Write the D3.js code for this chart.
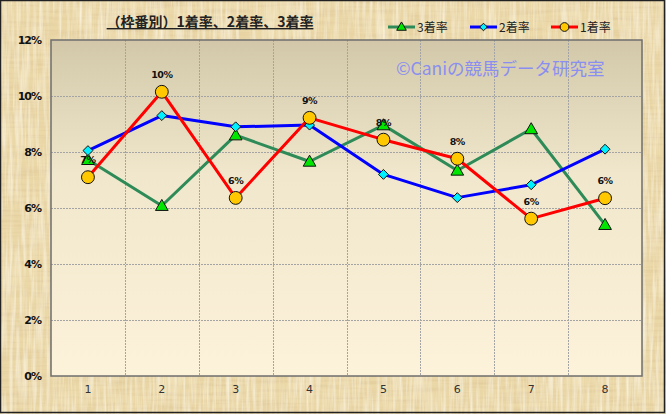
<!DOCTYPE html>
<html>
<head>
<meta charset="utf-8">
<script src="https://cdn.jsdelivr.net/npm/d3@7"></script>
<style>
  body { margin: 0; background: #fff; }
  svg { display: block; }
</style>
</head>
<body>
<script>
// 枠番別 着率 data
const categories = ["1", "2", "3", "4", "5", "6", "7", "8"];
const rate1 = [7.1, 10.15, 6.36, 9.22, 8.44, 7.76, 5.62, 6.35];
const rate2 = [8.05, 9.3, 8.9, 8.96, 7.2, 6.37, 6.83, 8.1];
const rate3 = [7.72, 6.08, 8.6, 7.66, 8.96, 7.34, 8.82, 5.4];
const labels1 = ["7%", "10%", "6%", "9%", "8%", "8%", "6%", "6%"];
const yTicks = [0, 2, 4, 6, 8, 10, 12];
const seriesNames = ["3着率", "2着率", "1着率"];

const W = 666, H = 414;
const margin = { top: 40, right: 24, bottom: 38, left: 51 };
const pw = W - margin.left - margin.right;
const ph = H - margin.top - margin.bottom;

const x = d3.scaleBand().domain(categories).range([0, pw]);
const y = d3.scaleLinear().domain([0, 12]).range([ph, 0]);

const svg = d3.select("body").append("svg")
    .attr("width", W).attr("height", H);

const defs = svg.append("defs");

// parchment texture: dark blotches + light fibres
const flt = defs.append("filter").attr("id", "paper")
    .attr("x", 0).attr("y", 0).attr("width", "100%").attr("height", "100%");
flt.append("feTurbulence").attr("type", "fractalNoise")
    .attr("baseFrequency", "0.02 0.3").attr("numOctaves", 3).attr("seed", 4)
    .attr("result", "n1");
flt.append("feColorMatrix").attr("in", "n1").attr("type", "matrix")
    .attr("values", "0 0 0 0 0.72  0 0 0 0 0.56  0 0 0 0 0.3  1.3 0 0 0 -0.5")
    .attr("result", "c1");
flt.append("feTurbulence").attr("type", "fractalNoise")
    .attr("baseFrequency", "0.3 0.02").attr("numOctaves", 3).attr("seed", 9)
    .attr("result", "n2");
flt.append("feColorMatrix").attr("in", "n2").attr("type", "matrix")
    .attr("values", "0 0 0 0 1  0 0 0 0 0.97  0 0 0 0 0.86  1.3 0 0 0 -0.5")
    .attr("result", "c2");
flt.append("feMerge").selectAll("feMergeNode")
    .data(["c1", "c2"]).join("feMergeNode").attr("in", d => d);

const grad = defs.append("linearGradient").attr("id", "plotbg")
    .attr("x1", 0).attr("y1", 0).attr("x2", 0).attr("y2", 1);
grad.append("stop").attr("offset", "0%").attr("stop-color", "#d2c8a9");
grad.append("stop").attr("offset", "40%").attr("stop-color", "#f0e7cc");
grad.append("stop").attr("offset", "100%").attr("stop-color", "#fdf2da");

// background
svg.append("rect").attr("width", W).attr("height", H).attr("fill", "#ebd8a8");
svg.append("rect").attr("width", W).attr("height", H).attr("filter", "url(#paper)");
svg.append("rect").attr("x", 0.5).attr("y", 0.5).attr("width", W - 2).attr("height", H - 2)
    .attr("fill", "none").attr("stroke", "#222").attr("stroke-width", 1.5);

const g = svg.append("g").attr("transform", `translate(${margin.left},${margin.top})`);

g.append("rect").attr("width", pw).attr("height", ph).attr("fill", "url(#plotbg)");

// gridlines
g.append("g").selectAll("line").data(yTicks.slice(1, -1)).join("line")
    .attr("x1", 0).attr("x2", pw)
    .attr("y1", d => Math.round(y(d)) + 0.5).attr("y2", d => Math.round(y(d)) + 0.5)
    .attr("stroke", "#a4a4a4").attr("stroke-dasharray", "2,1");
g.append("g").selectAll("line").data(categories.slice(1)).join("line")
    .attr("x1", d => Math.round(x(d)) + 0.5).attr("x2", d => Math.round(x(d)) + 0.5)
    .attr("y1", 0).attr("y2", ph)
    .attr("stroke", "#a4a4a4").attr("stroke-dasharray", "2,1");

g.append("rect").attr("x", 0).attr("y", 0).attr("width", pw).attr("height", ph)
    .attr("fill", "none").attr("stroke", "#6e6e6e").attr("stroke-width", 1.5);

// axes
const yAxis = g.append("g")
    .call(d3.axisLeft(y).tickValues(yTicks).tickFormat(d => d + "%").tickSize(0).tickPadding(10));
yAxis.select(".domain").remove();
yAxis.selectAll("text").attr("font-family", "DejaVu Sans, sans-serif")
    .attr("font-size", 11).attr("font-weight", "bold").attr("fill", "#111")
    .attr("letter-spacing", "-1");

const xAxis = g.append("g").attr("transform", `translate(0,${ph})`)
    .call(d3.axisBottom(x).tickSize(0).tickPadding(9));
xAxis.select(".domain").remove();
xAxis.selectAll("text").attr("font-family", "DejaVu Sans, sans-serif")
    .attr("font-size", 11).attr("fill", "#333");

// watermark
svg.append("text").attr("x", 396).attr("y", 75)
    .attr("font-family", "Noto Sans CJK JP, sans-serif")
    .attr("font-size", 17.5).attr("fill", "#8a8ef0")
    .text("©Caniの競馬データ研究室");

// series
const cx = d => x(d) + x.bandwidth() / 2;
const series = [
  { name: seriesNames[0], values: rate3, color: "#2e8b57", marker: "triangle", fill: "#00e600" },
  { name: seriesNames[1], values: rate2, color: "#0000ff", marker: "diamond", fill: "#00f0ff" },
  { name: seriesNames[2], values: rate1, color: "#ff0000", marker: "circle", fill: "#ffc800" }
];

const markerSym = {
  triangle: d3.symbol().type(d3.symbolTriangle).size(70),
  diamond: d3.symbol().type(d3.symbolDiamond2).size(62),
  circle: d3.symbol().type(d3.symbolCircle).size(130)
};
const legendSym = {
  triangle: d3.symbol().type(d3.symbolTriangle).size(40),
  diamond: d3.symbol().type(d3.symbolDiamond2).size(36),
  circle: d3.symbol().type(d3.symbolCircle).size(60)
};

const line = d3.line().x((d, i) => cx(categories[i])).y(d => y(d));

series.forEach(s => {
  g.append("path").datum(s.values).attr("d", line)
      .attr("fill", "none").attr("stroke", s.color).attr("stroke-width", 3)
      .attr("stroke-linejoin", "round");
});
series.forEach(s => {
  g.append("g").selectAll("path").data(s.values).join("path")
      .attr("transform", (d, i) => `translate(${cx(categories[i])},${y(d) + (s.marker === "triangle" ? 1 : 0)})`)
      .attr("d", markerSym[s.marker]())
      .attr("fill", s.fill).attr("stroke", "#111").attr("stroke-width", 1);
});

// data labels for 1着率
g.append("g").selectAll("text").data(rate1).join("text")
    .attr("x", (d, i) => cx(categories[i]))
    .attr("y", d => y(d) - 14)
    .attr("text-anchor", "middle")
    .attr("font-family", "DejaVu Sans, sans-serif").attr("font-size", 9.5)
    .attr("font-weight", "bold").attr("fill", "#111").attr("letter-spacing", "-0.5")
    .text((d, i) => labels1[i]);

// title
svg.append("text").attr("x", 210).attr("y", 27).attr("text-anchor", "middle")
    .attr("font-family", "Noto Sans CJK JP, sans-serif").attr("font-size", 14)
    .attr("font-weight", "bold").attr("fill", "#222")
    .attr("text-decoration", "underline")
    .text("（枠番別）1着率、2着率、3着率");

// legend
const legX = [388, 470, 551];
const leg = svg.append("g").selectAll("g").data(series).join("g")
    .attr("transform", (d, i) => `translate(${legX[i]},27)`);
leg.append("line").attr("x1", 0).attr("x2", 27)
    .attr("stroke", d => d.color).attr("stroke-width", 3);
leg.append("path").attr("transform", d => `translate(13.5,${d.marker === "triangle" ? 0.5 : 0})`)
    .attr("d", d => legendSym[d.marker]())
    .attr("fill", d => d.fill).attr("stroke", "#111").attr("stroke-width", 1);
leg.append("text").attr("x", 29).attr("y", 4.5)
    .attr("font-family", "Noto Sans CJK JP, sans-serif").attr("font-size", 12)
    .attr("fill", "#222").text(d => d.name);
</script>
</body>
</html>
